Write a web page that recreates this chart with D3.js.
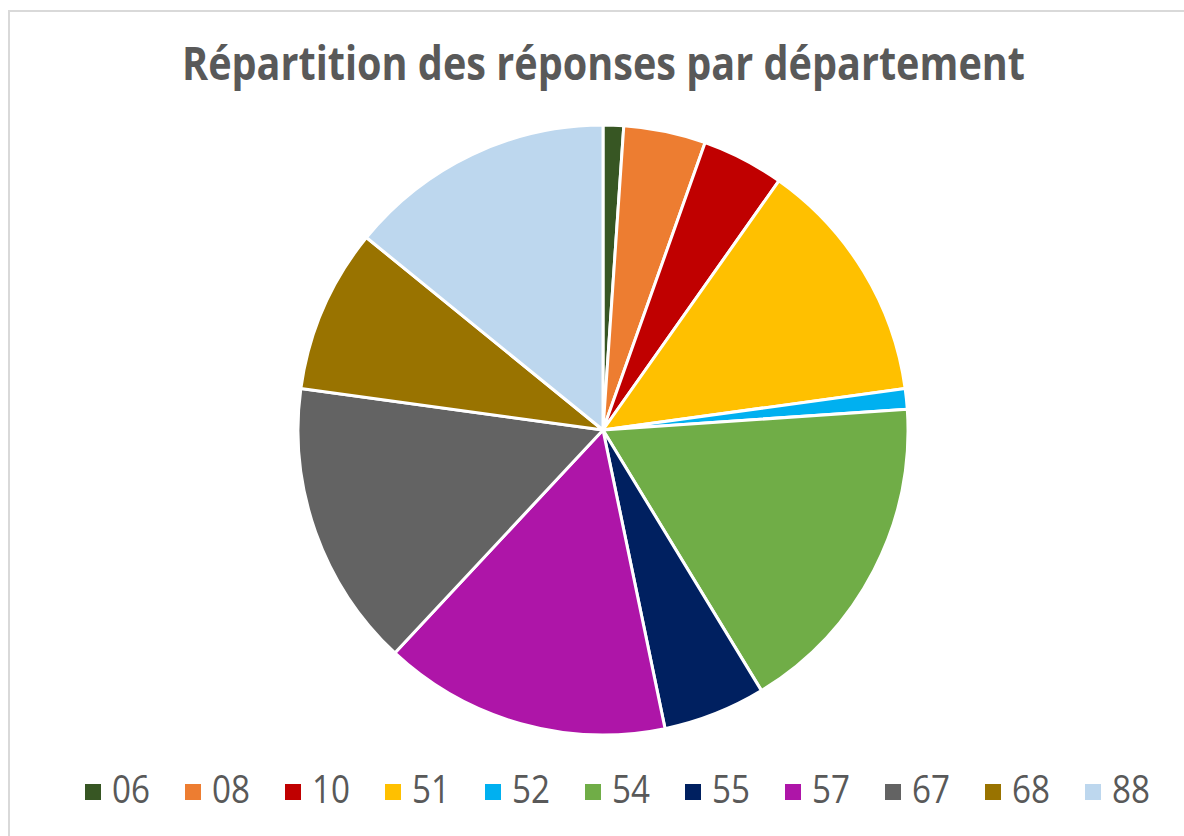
<!DOCTYPE html>
<html>
<head>
<meta charset="utf-8">
<script src="https://cdn.jsdelivr.net/npm/d3@7"></script>
<style>
  body { margin: 0; background: #fff; }
  svg { display: block; }
</style>
</head>
<body>
<svg id="chart"></svg>
<script>
// departements and number of answers
let departements = ["06", "08", "10", "51", "52", "54", "55", "57", "67", "68", "88"];
let reponses = [1, 4, 4, 12, 1, 16, 5, 14, 14, 8, 13];
let couleurs = ["#375623", "#ed7d31", "#c00000", "#ffc000", "#00b0f0", "#70ad47",
                "#002060", "#ae15a8", "#636363", "#997300", "#bdd7ee"];
let titre = "Répartition des réponses par département";

let width = 1184;
let height = 836;
let cx = 603, cy = 430, radius = 305;

let svg = d3.select("#chart")
    .attr("width", width)
    .attr("height", height);

// chart frame
svg.append("rect")
    .attr("x", 9).attr("y", 11)
    .attr("width", width + 10).attr("height", height + 10)
    .attr("fill", "#fff")
    .attr("stroke", "#d9d9d9")
    .attr("stroke-width", 2);

// title (narrowed to the reference width, the original font is condensed)
svg.append("text")
    .attr("x", 182)
    .attr("y", 80)
    .attr("font-family", "'Open Sans', sans-serif")
    .attr("font-weight", "bold")
    .attr("font-size", 46)
    .attr("fill", "#595959")
    .attr("textLength", 843)
    .attr("lengthAdjust", "spacingAndGlyphs")
    .text(titre);

// pie
let data = departements.map((d, i) => ({ dep: d, n: reponses[i] }));
let colour = d3.scaleOrdinal().domain(departements).range(couleurs);
let pie = d3.pie().value(d => d.n).sort(null);
let arc = d3.arc().innerRadius(0).outerRadius(radius);

svg.append("g")
    .attr("transform", `translate(${cx},${cy})`)
    .selectAll("path")
    .data(pie(data))
    .enter()
    .append("path")
        .attr("d", arc)
        .attr("fill", d => colour(d.data.dep))
        .attr("stroke", "#fff")
        .attr("stroke-width", 3)
        .attr("stroke-linejoin", "round");

// legend
let legendX = d3.scalePoint().domain(departements).range([85, 1085]);
let legend = svg.append("g")
    .selectAll("g")
    .data(departements)
    .enter()
    .append("g")
        .attr("transform", d => `translate(${legendX(d)},0)`);

legend.append("rect")
    .attr("x", 0).attr("y", 784)
    .attr("width", 16).attr("height", 16)
    .attr("fill", d => colour(d));

legend.append("text")
    .attr("x", 27)
    .attr("y", 803)
    .attr("font-family", "'Open Sans', sans-serif")
    .attr("font-size", 38)
    .attr("fill", "#595959")
    .attr("textLength", 38)
    .attr("lengthAdjust", "spacingAndGlyphs")
    .text(d => d);
</script>
</body>
</html>
